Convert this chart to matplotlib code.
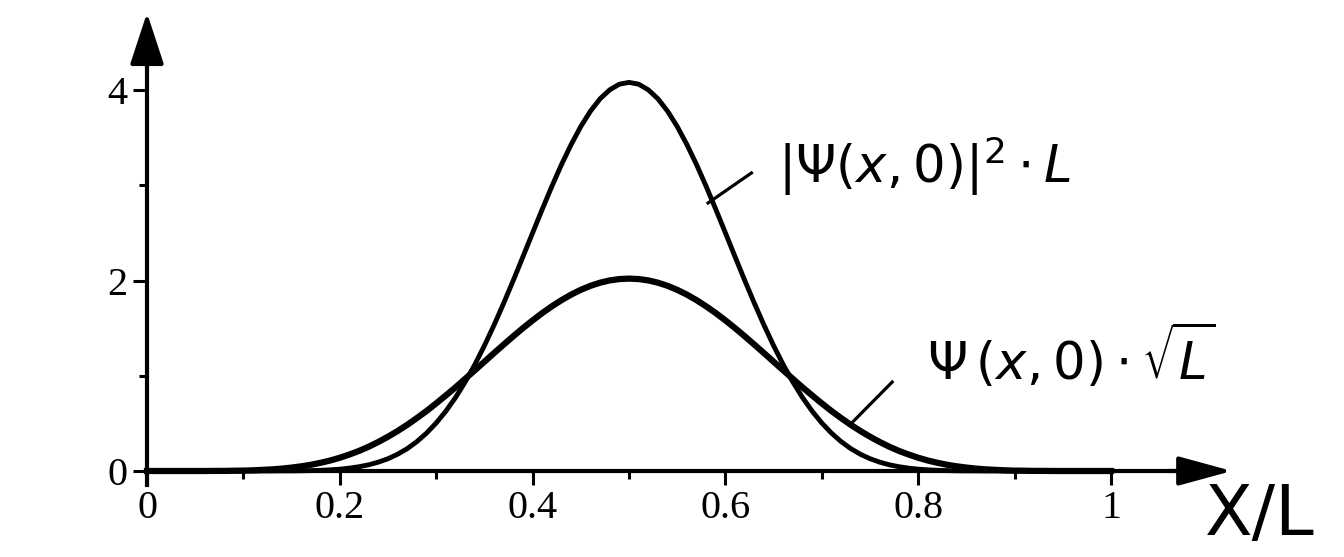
import matplotlib
matplotlib.use('Agg')
import matplotlib.pyplot as plt

# x/L sample positions (step 0.01)
x_vals = [i / 100 for i in range(101)]

# Psi(x,0)*sqrt(L), left half up to the peak at x = 0.5, then mirrored
psi_half = [0.000, 0.000, 0.000, 0.000, 0.000, 0.000, 0.000, 0.001, 0.001, 0.003,
            0.004, 0.007, 0.012, 0.017, 0.025, 0.036, 0.049, 0.065, 0.086, 0.110,
            0.139, 0.173, 0.211, 0.255, 0.305, 0.360, 0.420, 0.485, 0.556, 0.630,
            0.710, 0.793, 0.878, 0.967, 1.057, 1.147, 1.238, 1.327, 1.415, 1.500,
            1.581, 1.658, 1.729, 1.794, 1.852, 1.902, 1.944, 1.977, 2.001, 2.015,
            2.020]
psi_vals = psi_half + psi_half[-2::-1]

# |Psi(x,0)|^2 * L
prob_half = [0.000, 0.000, 0.000, 0.000, 0.000, 0.000, 0.000, 0.000, 0.000, 0.000,
             0.000, 0.000, 0.000, 0.000, 0.001, 0.001, 0.002, 0.004, 0.007, 0.012,
             0.019, 0.030, 0.045, 0.065, 0.093, 0.129, 0.176, 0.235, 0.309, 0.398,
             0.504, 0.628, 0.771, 0.934, 1.116, 1.316, 1.532, 1.762, 2.002, 2.250,
             2.500, 2.748, 2.989, 3.218, 3.428, 3.617, 3.778, 3.908, 4.002, 4.061,
             4.080]
prob_vals = prob_half + prob_half[-2::-1]

x_ticks = [0, 0.2, 0.4, 0.6, 0.8, 1]
x_ticklabels = ['0', '0.2', '0.4', '0.6', '0.8', '1']
x_minor = [0.1, 0.3, 0.5, 0.7, 0.9]
y_ticks = [0, 2, 4]
y_minor = [1, 3]

plt.rcParams['font.family'] = ['Liberation Serif', 'DejaVu Serif']

fig = plt.figure(figsize=(13.44, 5.57), dpi=100)
ax = fig.add_axes([0, 0, 1, 1])
ax.set_xlim(-0.1525, 1.2417)
ax.set_ylim(-0.903, 4.945)

ax.plot(x_vals, psi_vals, color='black', lw=4.5, solid_joinstyle='round')
ax.plot(x_vals, prob_vals, color='black', lw=3.5, solid_joinstyle='round')

# axes through the origin
for s in ['top', 'right']:
    ax.spines[s].set_visible(False)
ax.spines['left'].set_position(('data', 0))
ax.spines['bottom'].set_position(('data', 0))
ax.spines['left'].set_bounds(-0.15, 4.4)
ax.spines['bottom'].set_bounds(0, 1.09)
ax.spines['left'].set_linewidth(3)
ax.spines['bottom'].set_linewidth(3)

ax.set_xticks(x_ticks)
ax.set_xticklabels(x_ticklabels)
ax.set_xticks(x_minor, minor=True)
ax.set_yticks(y_ticks)
ax.set_yticks(y_minor, minor=True)
ax.tick_params(which='major', direction='out', length=10, width=2.2, labelsize=29, pad=4)
ax.tick_params(which='minor', direction='out', length=6, width=2.2)

# arrow heads
ax.annotate('', xy=(0, 4.81), xytext=(0, 4.3),
            arrowprops=dict(arrowstyle='-|>,head_length=3.2,head_width=1.05',
                            mutation_scale=10, lw=3, color='black',
                            shrinkA=0, shrinkB=0))
ax.annotate('', xy=(1.1255, 0), xytext=(1.06, 0),
            arrowprops=dict(arrowstyle='-|>,head_length=3.3,head_width=0.9',
                            mutation_scale=10, lw=3, color='black',
                            shrinkA=0, shrinkB=0))

# leader lines + labels
ax.plot([0.582, 0.627], [2.814, 3.129], color='black', lw=2.3)
ax.plot([0.731, 0.773], [0.504, 0.934], color='black', lw=2.3)
ax.text(0.655, 3.2, r'$|\Psi(x,0)|^2\cdot L$', fontsize=37, va='center', ha='left',
        family='DejaVu Sans')
ax.text(0.809, 1.2, r'$\Psi\,(x,0)\cdot\sqrt{L}$', fontsize=37, va='center', ha='left',
        family='DejaVu Sans')
ax.text(1.0975, -0.47, 'X/L', fontsize=50, va='center', ha='left', family='DejaVu Sans')

plt.savefig('out.png', dpi=100)
plt.close()
